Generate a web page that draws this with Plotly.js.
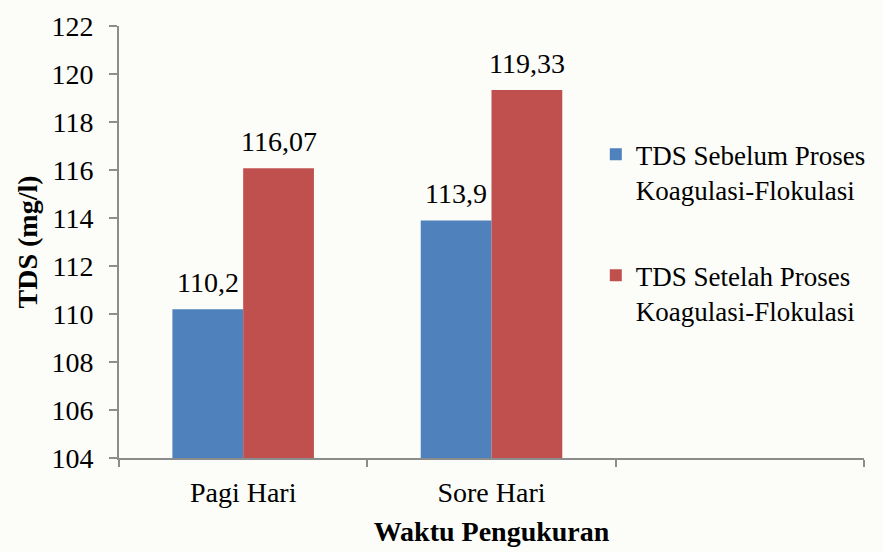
<!DOCTYPE html>
<html>
<head>
<meta charset="utf-8">
<script src="https://cdn.plot.ly/plotly-3.0.1.min.js"></script>
<style>html,body{margin:0;padding:0;background:#fcfdf9;}</style>
</head>
<body>
<div id="chart" style="width:883px;height:552px;"></div>
<script>
const categories = ['Pagi Hari', 'Sore Hari', ' '];
const seriesNames = ['TDS Sebelum Proses<br>Koagulasi-Flokulasi', 'TDS Setelah Proses<br>Koagulasi-Flokulasi'];
const sebelum = [110.2, 113.9, null];
const setelah = [116.07, 119.33, null];
const yTicks = [104, 106, 108, 110, 112, 114, 116, 118, 120, 122];

const font = 'Liberation Serif';
const fs = 28;
const bargap = 0.43;

const traces = [
  {type: 'bar', x: categories, y: sebelum, name: seriesNames[0], legendgroup: 'a',
   marker: {color: '#4f81bd'}},
  {type: 'bar', x: categories, y: setelah, name: seriesNames[1], legendgroup: 'b',
   marker: {color: '#c0504d'}}
];

// value labels above each bar, placed through the axes (category index +/- half a bar)
const half = (1 - bargap) / 4;
const annotations = [];
[sebelum, setelah].forEach((series, s) => {
  series.forEach((v, i) => {
    if (v === null) return;
    annotations.push({x: i + (s === 0 ? -half : half), y: v, xref: 'x', yref: 'y',
      text: String(v).replace('.', ','), showarrow: false, yanchor: 'bottom', yshift: 9,
      font: {family: font, size: fs, color: '#000'}});
  });
});

const layout = {
  width: 883, height: 552,
  margin: {l: 119, r: 14, t: 26, b: 94},
  paper_bgcolor: '#fcfdf9', plot_bgcolor: '#fcfdf9',
  font: {family: font, size: fs, color: '#000'},
  barmode: 'group', bargap: bargap, bargroupgap: 0,
  showlegend: true,
  annotations: annotations,
  legend: {x: 0.64, y: 0.759, xanchor: 'left', yanchor: 'top', bgcolor: 'rgba(0,0,0,0)',
           font: {family: font, size: 27, color: '#000'}, tracegroupgap: 48, valign: 'top',
           traceorder: 'grouped', itemwidth: 30},
  xaxis: {type: 'category', categoryarray: categories, range: [-0.5, 2.5],
          showline: true, linecolor: '#8c8c8c', linewidth: 2,
          ticks: 'outside', tickson: 'boundaries', ticklen: 7, tickcolor: '#8c8c8c', tickwidth: 2,
          ticklabelstandoff: 8,
          showgrid: false, zeroline: false,
          tickfont: {family: font, size: fs, color: '#000'},
          title: {text: '<b>Waktu Pengukuran</b>', font: {family: font, size: fs, color: '#000'}, standoff: 15}},
  yaxis: {range: [104, 122], tickvals: yTicks, showline: true, linecolor: '#8c8c8c', linewidth: 2,
          ticks: 'outside', ticklen: 8, tickcolor: '#8c8c8c', tickwidth: 2,
          ticklabelstandoff: 10,
          showgrid: false, zeroline: false,
          tickfont: {family: font, size: fs, color: '#000'},
          title: {text: '<b>TDS (mg/l)</b>', font: {family: font, size: fs, color: '#000'}, standoff: 6}}
};

Plotly.newPlot('chart', traces, layout, {displayModeBar: false, staticPlot: true});
</script>
</body>
</html>
